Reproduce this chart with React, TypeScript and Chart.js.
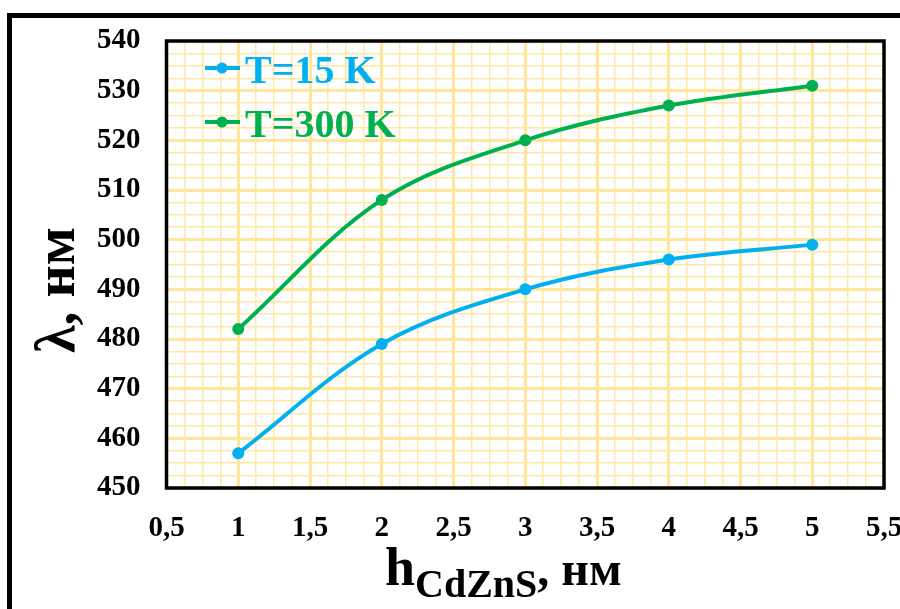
import React, { useEffect, useRef } from "react";
import { Chart, registerables } from "chart.js";

Chart.register(...registerables);

// CdZnS layer thickness, nm
const thickness = [1, 2, 3, 4, 5];
// Emission wavelength, nm
const lambda15K = [457, 479, 490, 496, 499];
const lambda300K = [482, 508, 520, 527, 531];

const seriesLabels = ["T=15 K", "T=300 K"];
const seriesColors = ["#00B0F0", "#00B050"];

const xMin = 0.5;
const xMax = 5.5;
const xMajorStep = 0.5;
const xMinorStep = 0.125;
const yMin = 450;
const yMax = 540;
const yMajorStep = 10;
const yMinorStep = 2.5;

const SERIF = '"Liberation Serif", "Times New Roman", serif';
const GRID_MAJOR = "#FFE699";
const GRID_MINOR = "#FFE8A6";

const isMultiple = (v: number, step: number) => Math.abs(v / step - Math.round(v / step)) < 1e-6;

// Plot frame, legend and axis titles
const decorations = {
  id: "decorations",
  beforeDatasetsDraw(chart: any) {
    const { ctx, chartArea } = chart;
    ctx.save();
    ctx.strokeStyle = "#000";
    ctx.lineWidth = 3.5;
    ctx.strokeRect(chartArea.left, chartArea.top, chartArea.right - chartArea.left, chartArea.bottom - chartArea.top);
    ctx.restore();
  },
  afterDatasetsDraw(chart: any) {
    const { ctx } = chart;
    ctx.save();

    // legend
    const rows = [
      { y: 68, base: 83 },
      { y: 122, base: 137 },
    ];
    seriesLabels.forEach((label, i) => {
      const r = rows[i];
      ctx.strokeStyle = seriesColors[i];
      ctx.fillStyle = seriesColors[i];
      ctx.lineWidth = 4;
      ctx.beginPath();
      ctx.moveTo(205, r.y);
      ctx.lineTo(240, r.y);
      ctx.stroke();
      ctx.beginPath();
      ctx.arc(222, r.y, 5.5, 0, Math.PI * 2);
      ctx.fill();
      ctx.font = `bold 40px ${SERIF}`;
      ctx.textAlign = "left";
      ctx.textBaseline = "alphabetic";
      ctx.fillText(label, 245, r.base);
    });

    // x title: h with CdZnS subscript
    ctx.fillStyle = "#000";
    ctx.textBaseline = "alphabetic";
    ctx.textAlign = "left";
    let x = 385;
    ctx.font = `bold 54px ${SERIF}`;
    ctx.fillText("h", x, 585);
    x += ctx.measureText("h").width;
    ctx.font = `bold 40px ${SERIF}`;
    ctx.fillText("CdZnS", x, 597);
    x += ctx.measureText("CdZnS").width;
    ctx.font = `bold 48px ${SERIF}`;
    ctx.fillText(", нм", x, 585);

    // y title
    ctx.translate(74, 353);
    ctx.rotate(-Math.PI / 2);
    ctx.font = `bold 56px ${SERIF}`;
    ctx.fillText("λ, нм", 0, 0);

    ctx.restore();
  },
};

export default function App() {
  const canvasRef = useRef<HTMLCanvasElement | null>(null);

  useEffect(() => {
    const canvas = canvasRef.current;
    if (!canvas) return;

    const chart = new Chart(canvas, {
      type: "line",
      data: {
        datasets: [
          {
            label: seriesLabels[0],
            data: thickness.map((h, i) => ({ x: h, y: lambda15K[i] })),
            borderColor: seriesColors[0],
            backgroundColor: seriesColors[0],
            borderWidth: 4,
            pointRadius: 6,
            pointBorderWidth: 0,
            tension: 0.35,
          },
          {
            label: seriesLabels[1],
            data: thickness.map((h, i) => ({ x: h, y: lambda300K[i] })),
            borderColor: seriesColors[1],
            backgroundColor: seriesColors[1],
            borderWidth: 4,
            pointRadius: 6,
            pointBorderWidth: 0,
            tension: 0.35,
          },
        ],
      },
      options: {
        responsive: false,
        animation: false,
        devicePixelRatio: 1,
        layout: { padding: { left: 0, right: 16, top: 41, bottom: 0 } },
        plugins: {
          legend: { display: false },
          tooltip: { enabled: false },
          title: { display: false },
        },
        scales: {
          x: {
            type: "linear",
            min: xMin,
            max: xMax,
            afterFit: (s: any) => {
              s.height = 121;
              s.paddingLeft = 0;
              s.paddingRight = 0;
            },
            border: { display: false },
            grid: {
              drawTicks: false,
              color: (c: any) => (c.tick && isMultiple(c.tick.value, xMajorStep) ? GRID_MAJOR : GRID_MINOR),
              lineWidth: (c: any) => (c.tick && isMultiple(c.tick.value, xMajorStep) ? 3 : 1.5),
            },
            ticks: {
              stepSize: xMinorStep,
              autoSkip: false,
              maxRotation: 0,
              padding: 23,
              color: "#000",
              font: { family: SERIF, size: 29, weight: "bold" },
              callback: (v: any) => (isMultiple(Number(v), xMajorStep) ? String(Number(v)).replace(".", ",") : ""),
            },
          },
          y: {
            type: "linear",
            min: yMin,
            max: yMax,
            afterFit: (s: any) => {
              s.width = 166.5;
              s.paddingTop = 0;
              s.paddingBottom = 0;
            },
            border: { display: false },
            grid: {
              drawTicks: false,
              color: (c: any) => (c.tick && isMultiple(c.tick.value, yMajorStep) ? GRID_MAJOR : GRID_MINOR),
              lineWidth: (c: any) => (c.tick && isMultiple(c.tick.value, yMajorStep) ? 3 : 1.5),
            },
            ticks: {
              stepSize: yMinorStep,
              autoSkip: false,
              padding: 26,
              color: "#000",
              font: { family: SERIF, size: 29, weight: "bold" },
              callback: (v: any) => (isMultiple(Number(v), yMajorStep) ? String(Number(v)) : ""),
            },
          },
        },
      },
      plugins: [decorations],
    });

    return () => chart.destroy();
  }, []);

  return (
    <div
      style={{
        position: "fixed",
        left: 0,
        top: 0,
        width: 900,
        height: 609,
        overflow: "hidden",
        background: "#fff",
      }}
    >
      <div
        style={{
          position: "absolute",
          left: 7,
          top: 13,
          width: 960,
          height: 660,
          border: "5px solid #000",
        }}
      />
      <canvas
        ref={canvasRef}
        width={900}
        height={609}
        style={{ position: "absolute", left: 0, top: 0, display: "block" }}
      />
    </div>
  );
}
